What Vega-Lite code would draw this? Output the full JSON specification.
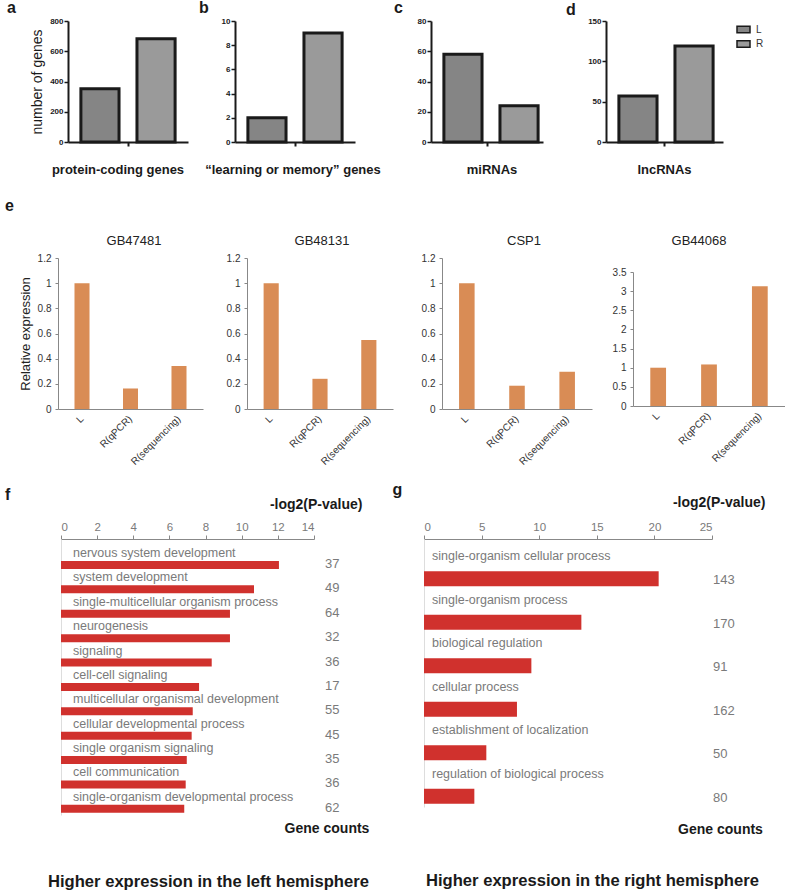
{
  "$schema": "https://vega.github.io/schema/vega-lite/v6.json",
  "background": "white",
  "padding": {"left": 5, "top": 0, "right": 0, "bottom": 0},
  "autosize": {"type": "pad"},
  "config": {
    "view": {"stroke": null},
    "font": "Liberation Sans",
    "axis": {"grid": false, "labelFont": "Liberation Sans", "titleFont": "Liberation Sans"},
    "title": {"font": "Liberation Sans", "fontSize": 16, "fontWeight": "bold", "color": "#1a1a1a", "anchor": "start", "frame": "group"},
    "text": {"font": "Liberation Sans"}
  },
  "datasets": {
    "fgo": [
      {"term": "nervous system development", "p": 12.06, "n": 37},
      {"term": "system development", "p": 10.68, "n": 49},
      {"term": "single-multicellular organism process", "p": 9.35, "n": 64},
      {"term": "neurogenesis", "p": 9.35, "n": 32},
      {"term": "signaling", "p": 8.34, "n": 36},
      {"term": "cell-cell signaling", "p": 7.64, "n": 17},
      {"term": "multicellular organismal development", "p": 7.29, "n": 55},
      {"term": "cellular developmental process", "p": 7.23, "n": 45},
      {"term": "single organism signaling", "p": 6.96, "n": 35},
      {"term": "cell communication", "p": 6.9, "n": 36},
      {"term": "single-organism developmental process", "p": 6.82, "n": 62}
    ],
    "ggo": [
      {"term": "single-organism cellular process", "p": 20.37, "n": 143},
      {"term": "single-organism process", "p": 13.66, "n": 170},
      {"term": "biological regulation", "p": 9.32, "n": 91},
      {"term": "cellular process", "p": 8.07, "n": 162},
      {"term": "establishment of localization", "p": 5.41, "n": 50},
      {"term": "regulation of biological process", "p": 4.37, "n": 80}
    ]
  },
  "spacing": 22,
  "vconcat": [
    {
      "hconcat": [
        {
          "width": 177, "height": 121,
          "title": {"text": "a", "dx": -51, "offset": 1},
          "data": {"values": [
            {"category": "protein-coding genes", "group": "L", "genes": 352},
            {"category": "protein-coding genes", "group": "R", "genes": 683}
          ]},
          "mark": {"type": "bar", "stroke": "#1a1a1a", "strokeWidth": 3},
          "encoding": {
            "x": {"field": "category", "type": "nominal", "scale": {"range": [10, 130], "paddingInner": 0, "paddingOuter": 0},
              "axis": {"title": null, "labelAngle": 0, "labelFontSize": 13, "labelFontWeight": "bold", "labelColor": "#1a1a1a", "labelPadding": 17, "labelOffset": -10, "labelLimit": 300, "domainColor": "#1a1a1a", "domainWidth": 2, "tickColor": "#1a1a1a", "tickWidth": 2, "tickSize": 4}},
            "xOffset": {"field": "group", "type": "nominal", "scale": {"paddingInner": 0.32, "paddingOuter": 0.23}},
            "y": {"field": "genes", "type": "quantitative", "scale": {"domain": [0, 800], "nice": false},
              "axis": {"values": [0, 200, 400, 600, 800], "offset": -10, "title": "number of genes", "titleFontSize": 14, "titleFontWeight": "normal", "titleColor": "#1a1a1a", "titlePadding": 5, "labelFontSize": 8, "labelFontWeight": "bold", "labelColor": "#1a1a1a", "labelPadding": 1, "domainColor": "#1a1a1a", "domainWidth": 2, "tickColor": "#1a1a1a", "tickWidth": 1.5, "tickSize": 4}},
            "fill": {"field": "group", "type": "nominal", "scale": {"domain": ["L", "R"], "range": ["#858585", "#9a9a9a"]}, "legend": null}
          }
        },
        {
          "width": 196, "height": 121,
          "title": {"text": "b", "dx": -36, "offset": 1},
          "data": {"values": [
            {"category": "“learning or memory” genes", "group": "L", "genes": 2},
            {"category": "“learning or memory” genes", "group": "R", "genes": 9}
          ]},
          "mark": {"type": "bar", "stroke": "#1a1a1a", "strokeWidth": 3},
          "encoding": {
            "x": {"field": "category", "type": "nominal", "scale": {"range": [0, 120], "paddingInner": 0, "paddingOuter": 0},
              "axis": {"title": null, "labelAngle": 0, "labelFontSize": 13, "labelFontWeight": "bold", "labelColor": "#1a1a1a", "labelPadding": 17, "labelOffset": -2, "labelLimit": 300, "domainColor": "#1a1a1a", "domainWidth": 2, "tickColor": "#1a1a1a", "tickWidth": 2, "tickSize": 4}},
            "xOffset": {"field": "group", "type": "nominal", "scale": {"paddingInner": 0.32, "paddingOuter": 0.23}},
            "y": {"field": "genes", "type": "quantitative", "scale": {"domain": [0, 10], "nice": false},
              "axis": {"values": [0, 2, 4, 6, 8, 10], "title": null, "labelFontSize": 8, "labelFontWeight": "bold", "labelColor": "#1a1a1a", "labelPadding": 1, "domainColor": "#1a1a1a", "domainWidth": 2, "tickColor": "#1a1a1a", "tickWidth": 1.5, "tickSize": 4}},
            "fill": {"field": "group", "type": "nominal", "scale": {"domain": ["L", "R"], "range": ["#858585", "#9a9a9a"]}, "legend": null}
          }
        },
        {
          "width": 175, "height": 121,
          "title": {"text": "c", "dx": -37, "offset": 1},
          "data": {"values": [
            {"category": "miRNAs", "group": "L", "genes": 58},
            {"category": "miRNAs", "group": "R", "genes": 24}
          ]},
          "mark": {"type": "bar", "stroke": "#1a1a1a", "strokeWidth": 3},
          "encoding": {
            "x": {"field": "category", "type": "nominal", "scale": {"range": [0, 112], "paddingInner": 0, "paddingOuter": 0},
              "axis": {"title": null, "labelAngle": 0, "labelFontSize": 13, "labelFontWeight": "bold", "labelColor": "#1a1a1a", "labelPadding": 17, "labelOffset": 5, "labelLimit": 300, "domainColor": "#1a1a1a", "domainWidth": 2, "tickColor": "#1a1a1a", "tickWidth": 2, "tickSize": 4}},
            "xOffset": {"field": "group", "type": "nominal", "scale": {"paddingInner": 0.32, "paddingOuter": 0.23}},
            "y": {"field": "genes", "type": "quantitative", "scale": {"domain": [0, 80], "nice": false},
              "axis": {"values": [0, 20, 40, 60, 80], "title": null, "labelFontSize": 8, "labelFontWeight": "bold", "labelColor": "#1a1a1a", "labelPadding": 1, "domainColor": "#1a1a1a", "domainWidth": 2, "tickColor": "#1a1a1a", "tickWidth": 1.5, "tickSize": 4}},
            "fill": {"field": "group", "type": "nominal", "scale": {"domain": ["L", "R"], "range": ["#858585", "#9a9a9a"]}, "legend": null}
          }
        },
        {
          "width": 117, "height": 121,
          "title": {"text": "d", "dx": -40, "offset": -1},
          "data": {"values": [
            {"category": "lncRNAs", "group": "L", "genes": 57},
            {"category": "lncRNAs", "group": "R", "genes": 119}
          ]},
          "mark": {"type": "bar", "stroke": "#1a1a1a", "strokeWidth": 3},
          "encoding": {
            "x": {"field": "category", "type": "nominal", "scale": {"range": [0, 117], "paddingInner": 0, "paddingOuter": 0},
              "axis": {"title": null, "labelAngle": 0, "labelFontSize": 13, "labelFontWeight": "bold", "labelColor": "#1a1a1a", "labelPadding": 17, "labelOffset": 0, "labelLimit": 300, "domainColor": "#1a1a1a", "domainWidth": 2, "tickColor": "#1a1a1a", "tickWidth": 2, "tickSize": 4}},
            "xOffset": {"field": "group", "type": "nominal", "scale": {"paddingInner": 0.32, "paddingOuter": 0.23}},
            "y": {"field": "genes", "type": "quantitative", "scale": {"domain": [0, 150], "nice": false},
              "axis": {"values": [0, 50, 100, 150], "title": null, "labelFontSize": 8, "labelFontWeight": "bold", "labelColor": "#1a1a1a", "labelPadding": 1, "domainColor": "#1a1a1a", "domainWidth": 2, "tickColor": "#1a1a1a", "tickWidth": 1.5, "tickSize": 4}},
            "fill": {"field": "group", "type": "nominal", "scale": {"domain": ["L", "R"], "range": ["#858585", "#9a9a9a"]},
              "legend": {"title": null, "orient": "right", "offset": 12, "padding": 1, "labelFontSize": 10, "labelColor": "#333", "labelOffset": 5, "rowPadding": 0.5, "symbolType": "M-1,-0.5H1V0.5H-1Z", "symbolSize": 169, "symbolStrokeColor": "#1a1a1a", "symbolStrokeWidth": 1.5}}
          }
        }
      ],
      "spacing": 0,
      "bounds": "flush",
      "resolve": {"scale": {"fill": "independent"}}
    },
    {
      "spacing": 15,
      "vconcat": [
        {
          "title": {"text": "e", "dx": -53, "offset": 21},
          "bounds": "flush",
          "spacing": 0,
          "hconcat": [
            {
              "width": 189, "height": 151,
              "title": {"text": "GB47481", "align": "center", "dx": 76, "offset": 5, "fontSize": 13, "fontWeight": "normal", "color": "#222"},
              "data": {"values": [
                {"sample": "L", "expr": 1.0},
                {"sample": "R(qPCR)", "expr": 0.163},
                {"sample": "R(sequencing)", "expr": 0.341}
              ]},
              "mark": {"type": "bar", "color": "#D98C55"},
              "encoding": {
                "x": {"field": "sample", "type": "nominal", "sort": null, "scale": {"range": [0, 145], "paddingInner": 0.69, "paddingOuter": 0.34},
                  "axis": {"title": null, "labelAngle": -45, "labelAlign": "right", "labelBaseline": "middle", "labelFontSize": 10, "labelColor": "#333", "labelPadding": 8, "ticks": false, "domainColor": "#888"}},
                "y": {"field": "expr", "type": "quantitative", "scale": {"domain": [0, 1.2], "nice": false},
                  "axis": {"values": [0, 0.2, 0.4, 0.6, 0.8, 1, 1.2], "format": "~g", "title": "Relative expression", "titleFontSize": 13, "titleFontWeight": "normal", "titleColor": "#222", "titlePadding": 5, "labelFontSize": 10, "labelColor": "#333", "labelPadding": 4, "domainColor": "#888", "tickColor": "#888", "tickSize": 3}}
              }
            },
            {
              "width": 195, "height": 151,
              "title": {"text": "GB48131", "align": "center", "dx": 75, "offset": 5, "fontSize": 13, "fontWeight": "normal", "color": "#222"},
              "data": {"values": [
                {"sample": "L", "expr": 1.0},
                {"sample": "R(qPCR)", "expr": 0.24},
                {"sample": "R(sequencing)", "expr": 0.548}
              ]},
              "mark": {"type": "bar", "color": "#D98C55"},
              "encoding": {
                "x": {"field": "sample", "type": "nominal", "sort": null, "scale": {"range": [0, 146], "paddingInner": 0.69, "paddingOuter": 0.34},
                  "axis": {"title": null, "labelAngle": -45, "labelAlign": "right", "labelBaseline": "middle", "labelFontSize": 10, "labelColor": "#333", "labelPadding": 8, "ticks": false, "domainColor": "#888"}},
                "y": {"field": "expr", "type": "quantitative", "scale": {"domain": [0, 1.2], "nice": false},
                  "axis": {"values": [0, 0.2, 0.4, 0.6, 0.8, 1, 1.2], "format": "~g", "title": null, "labelFontSize": 10, "labelColor": "#333", "labelPadding": 4, "domainColor": "#888", "tickColor": "#888", "tickSize": 3}}
              }
            },
            {
              "width": 191, "height": 151,
              "title": {"text": "CSP1", "align": "center", "dx": 82, "offset": 5, "fontSize": 13, "fontWeight": "normal", "color": "#222"},
              "data": {"values": [
                {"sample": "L", "expr": 1.0},
                {"sample": "R(qPCR)", "expr": 0.185},
                {"sample": "R(sequencing)", "expr": 0.296}
              ]},
              "mark": {"type": "bar", "color": "#D98C55"},
              "encoding": {
                "x": {"field": "sample", "type": "nominal", "sort": null, "scale": {"range": [0, 150], "paddingInner": 0.69, "paddingOuter": 0.34},
                  "axis": {"title": null, "labelAngle": -45, "labelAlign": "right", "labelBaseline": "middle", "labelFontSize": 10, "labelColor": "#333", "labelPadding": 8, "ticks": false, "domainColor": "#888"}},
                "y": {"field": "expr", "type": "quantitative", "scale": {"domain": [0, 1.2], "nice": false},
                  "axis": {"values": [0, 0.2, 0.4, 0.6, 0.8, 1, 1.2], "format": "~g", "title": null, "labelFontSize": 10, "labelColor": "#333", "labelPadding": 4, "domainColor": "#888", "tickColor": "#888", "tickSize": 3}}
              }
            },
            {
              "width": 152, "height": 148,
              "title": {"text": "GB44068", "align": "center", "dx": 66, "offset": 10, "fontSize": 13, "fontWeight": "normal", "color": "#222"},
              "data": {"values": [
                {"sample": "L", "expr": 1.0},
                {"sample": "R(qPCR)", "expr": 1.085},
                {"sample": "R(sequencing)", "expr": 3.13}
              ]},
              "mark": {"type": "bar", "color": "#D98C55"},
              "encoding": {
                "x": {"field": "sample", "type": "nominal", "sort": null, "scale": {"range": [0, 152], "paddingInner": 0.69, "paddingOuter": 0.34},
                  "axis": {"title": null, "labelAngle": -45, "labelAlign": "right", "labelBaseline": "middle", "labelFontSize": 10, "labelColor": "#333", "labelPadding": 8, "ticks": false, "domainColor": "#888"}},
                "y": {"field": "expr", "type": "quantitative", "scale": {"domain": [0, 3.5], "nice": false, "range": [148, 14]},
                  "axis": {"values": [0, 0.5, 1, 1.5, 2, 2.5, 3, 3.5], "format": "~g", "title": null, "labelFontSize": 10, "labelColor": "#333", "labelPadding": 4, "domainColor": "#888", "tickColor": "#888", "tickSize": 3}}
              }
            }
          ]
        },
        {
          "spacing": 22,
          "hconcat": [
            {
              "title": {"text": "Higher expression in the left hemisphere", "orient": "bottom", "dx": -10, "offset": 38, "fontSize": 16.6, "color": "#1a1a1a"},
              "bounds": "flush",
              "spacing": 0,
              "hconcat": [
                {
                  "width": 256, "height": 276,
                  "title": {"text": "f", "dx": -53, "offset": -6},
                  "data": {"name": "fgo"},
                  "encoding": {
                    "y": {"field": "term", "type": "nominal", "sort": null, "scale": {"type": "band", "paddingInner": 0, "paddingOuter": 0.16, "align": 1},
                      "axis": {"title": null, "labels": false, "ticks": false, "domainColor": "#dddddd", "offset": -3}}
                  },
                  "layer": [
                    {
                      "mark": {"type": "bar", "color": "#D0312D", "height": 8, "yOffset": 6},
                      "encoding": {
                        "x": {"field": "p", "type": "quantitative", "scale": {"domain": [0, 14], "range": [3, 256], "nice": false},
                          "axis": {"orient": "top", "values": [0, 2, 4, 6, 8, 10, 12, 14], "labelOverlap": false, "labelSeparation": 0, "domainColor": "#888", "tickColor": "#888", "tickSize": 4, "labelColor": "#7a7a7a", "labelFontSize": 11.5, "labelPadding": 3,
                            "title": "-log2(P-value)", "titleFontSize": 14, "titleFontWeight": "bold", "titleColor": "#1a1a1a", "titleAlign": "right", "titleBaseline": "middle", "titleX": 304, "titleY": -35}}
                      }
                    },
                    {
                      "mark": {"type": "text", "align": "left", "baseline": "middle", "dx": 12, "dy": -6, "fontSize": 12.5, "color": "#7a7a7a"},
                      "encoding": {
                        "x": {"datum": 0, "type": "quantitative",
                          "axis": {"orient": "top", "values": [0, 2, 4, 6, 8, 10, 12, 14], "labelOverlap": false, "labelSeparation": 0, "domainColor": "#888", "tickColor": "#888", "tickSize": 4, "labelColor": "#7a7a7a", "labelFontSize": 11.5, "labelPadding": 3,
                            "title": "-log2(P-value)", "titleFontSize": 14, "titleFontWeight": "bold", "titleColor": "#1a1a1a", "titleAlign": "right", "titleBaseline": "middle", "titleX": 304, "titleY": -35}},
                        "text": {"field": "term"}
                      }
                    }
                  ]
                },
                {
                  "width": 22, "height": 276,
                  "title": {"text": "Gene counts", "orient": "bottom", "anchor": "middle", "dx": 2, "offset": 7, "fontSize": 14, "color": "#1a1a1a"},
                  "data": {"name": "fgo"},
                  "mark": {"type": "text", "align": "left", "baseline": "middle", "dy": 5, "fontSize": 13, "color": "#7a7a7a"},
                  "encoding": {
                    "y": {"field": "term", "type": "nominal", "sort": null, "scale": {"type": "band", "paddingInner": 0, "paddingOuter": 0.16, "align": 1}, "axis": null},
                    "text": {"field": "n"}
                  }
                }
              ]
            },
            {
              "title": {"text": "Higher expression in the right hemisphere", "orient": "bottom", "dx": 2, "offset": 36, "fontSize": 16.6, "color": "#1a1a1a"},
              "bounds": "flush",
              "spacing": 0,
              "hconcat": [
                {
                  "width": 288, "height": 268,
                  "title": {"text": "g", "dx": -31.5, "offset": -3},
                  "data": {"name": "ggo"},
                  "encoding": {
                    "y": {"field": "term", "type": "nominal", "sort": null, "scale": {"type": "band", "paddingInner": 0, "paddingOuter": 0.08, "align": 1},
                      "axis": {"title": null, "labels": false, "ticks": false, "domainColor": "#dddddd"}}
                  },
                  "layer": [
                    {
                      "mark": {"type": "bar", "color": "#D0312D", "height": 15, "yOffset": 11},
                      "encoding": {
                        "x": {"field": "p", "type": "quantitative", "scale": {"domain": [0, 25], "nice": false},
                          "axis": {"orient": "top", "values": [0, 5, 10, 15, 20, 25], "labelOverlap": false, "domainColor": "#888", "tickColor": "#888", "tickSize": 4, "labelColor": "#7a7a7a", "labelFontSize": 11.5, "labelPadding": 3,
                            "title": "-log2(P-value)", "titleFontSize": 14, "titleFontWeight": "bold", "titleColor": "#1a1a1a", "titleAlign": "right", "titleBaseline": "middle", "titleX": 341, "titleY": -37}}
                      }
                    },
                    {
                      "mark": {"type": "text", "align": "left", "baseline": "middle", "dx": 8, "dy": -11.5, "fontSize": 12.5, "color": "#7a7a7a"},
                      "encoding": {
                        "x": {"datum": 0, "type": "quantitative",
                          "axis": {"orient": "top", "values": [0, 5, 10, 15, 20, 25], "labelOverlap": false, "domainColor": "#888", "tickColor": "#888", "tickSize": 4, "labelColor": "#7a7a7a", "labelFontSize": 11.5, "labelPadding": 3,
                            "title": "-log2(P-value)", "titleFontSize": 14, "titleFontWeight": "bold", "titleColor": "#1a1a1a", "titleAlign": "right", "titleBaseline": "middle", "titleX": 341, "titleY": -37}},
                        "text": {"field": "term"}
                      }
                    }
                  ]
                },
                {
                  "width": 2, "height": 268,
                  "title": {"text": "Gene counts", "orient": "bottom", "anchor": "middle", "dx": 7.5, "offset": 16, "fontSize": 14, "color": "#1a1a1a"},
                  "data": {"name": "ggo"},
                  "mark": {"type": "text", "align": "left", "baseline": "middle", "dy": 12.5, "fontSize": 13, "color": "#7a7a7a"},
                  "encoding": {
                    "y": {"field": "term", "type": "nominal", "sort": null, "scale": {"type": "band", "paddingInner": 0, "paddingOuter": 0.08, "align": 1}, "axis": null},
                    "text": {"field": "n"}
                  }
                }
              ]
            }
          ]
        }
      ]
    }
  ]
}
